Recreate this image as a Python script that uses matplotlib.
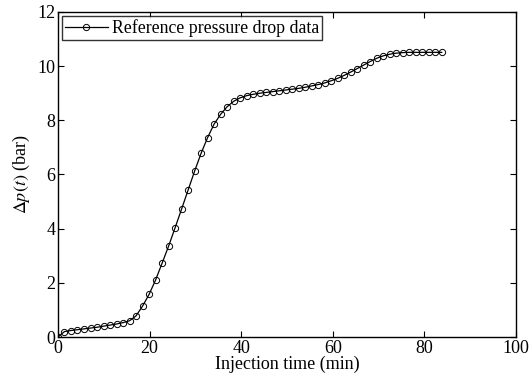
import matplotlib
matplotlib.use("Agg")
import matplotlib.pyplot as plt

time_min = [0.0, 1.42, 2.84, 4.26, 5.68, 7.1, 8.52, 9.94, 11.36, 12.78,
            14.2, 15.62, 17.04, 18.46, 19.88, 21.3, 22.72, 24.14, 25.56, 26.98,
            28.4, 29.82, 31.24, 32.66, 34.08, 35.5, 36.92, 38.34, 39.76, 41.18,
            42.6, 44.02, 45.44, 46.86, 48.28, 49.7, 51.12, 52.54, 53.96, 55.38,
            56.8, 58.22, 59.64, 61.06, 62.48, 63.9, 65.32, 66.74, 68.16, 69.58,
            71.0, 72.42, 73.84, 75.26, 76.68, 78.1, 79.52, 80.94, 82.36, 83.78]
pressure_bar = [0.0, 0.20, 0.24, 0.27, 0.30, 0.33, 0.36, 0.40, 0.44, 0.48,
                0.53, 0.60, 0.78, 1.14, 1.57, 2.10, 2.72, 3.35, 4.03, 4.72,
                5.42, 6.12, 6.78, 7.36, 7.86, 8.22, 8.50, 8.70, 8.83, 8.91,
                8.96, 9.00, 9.03, 9.06, 9.09, 9.12, 9.15, 9.18, 9.22, 9.27,
                9.32, 9.38, 9.46, 9.55, 9.66, 9.78, 9.91, 10.04, 10.17, 10.29,
                10.38, 10.44, 10.48, 10.50, 10.51, 10.51, 10.51, 10.51, 10.51, 10.51]
x_ticks = [0, 20, 40, 60, 80, 100]
y_ticks = [0, 2, 4, 6, 8, 10, 12]

plt.rcParams['font.family'] = ['Liberation Serif', 'DejaVu Serif']
plt.rcParams['mathtext.fontset'] = 'stix'

fig = plt.figure(figsize=(5.30, 3.77), dpi=100)
ax = fig.add_axes([0.1094, 0.1061, 0.8642, 0.8621])

ax.plot(time_min, pressure_bar, '-o', color='black', lw=0.9,
        markersize=4.5, markerfacecolor='none', markeredgewidth=0.7,
        label='Reference pressure drop data')

ax.set_xlim(0, 100)
ax.set_ylim(0, 12)
ax.set_xticks(x_ticks)
ax.set_yticks(y_ticks)
ax.tick_params(direction='in', top=True, right=True, length=4, width=0.8,
               labelsize=13, pad=2, colors='black')
for s in ax.spines.values():
    s.set_linewidth(1.0)

ax.set_xlabel('Injection time (min)', fontsize=13, labelpad=-1)
ax.set_ylabel(r'$\Delta p(t)$ (bar)', fontsize=13, labelpad=4)

leg = ax.legend(loc='upper left', fontsize=12.8, frameon=True, fancybox=False,
                edgecolor='black', borderpad=0.15, handlelength=2.4,
                handletextpad=0.25, borderaxespad=0.25)
leg.get_frame().set_linewidth(1.0)

fig.savefig('out.png', dpi=100)
